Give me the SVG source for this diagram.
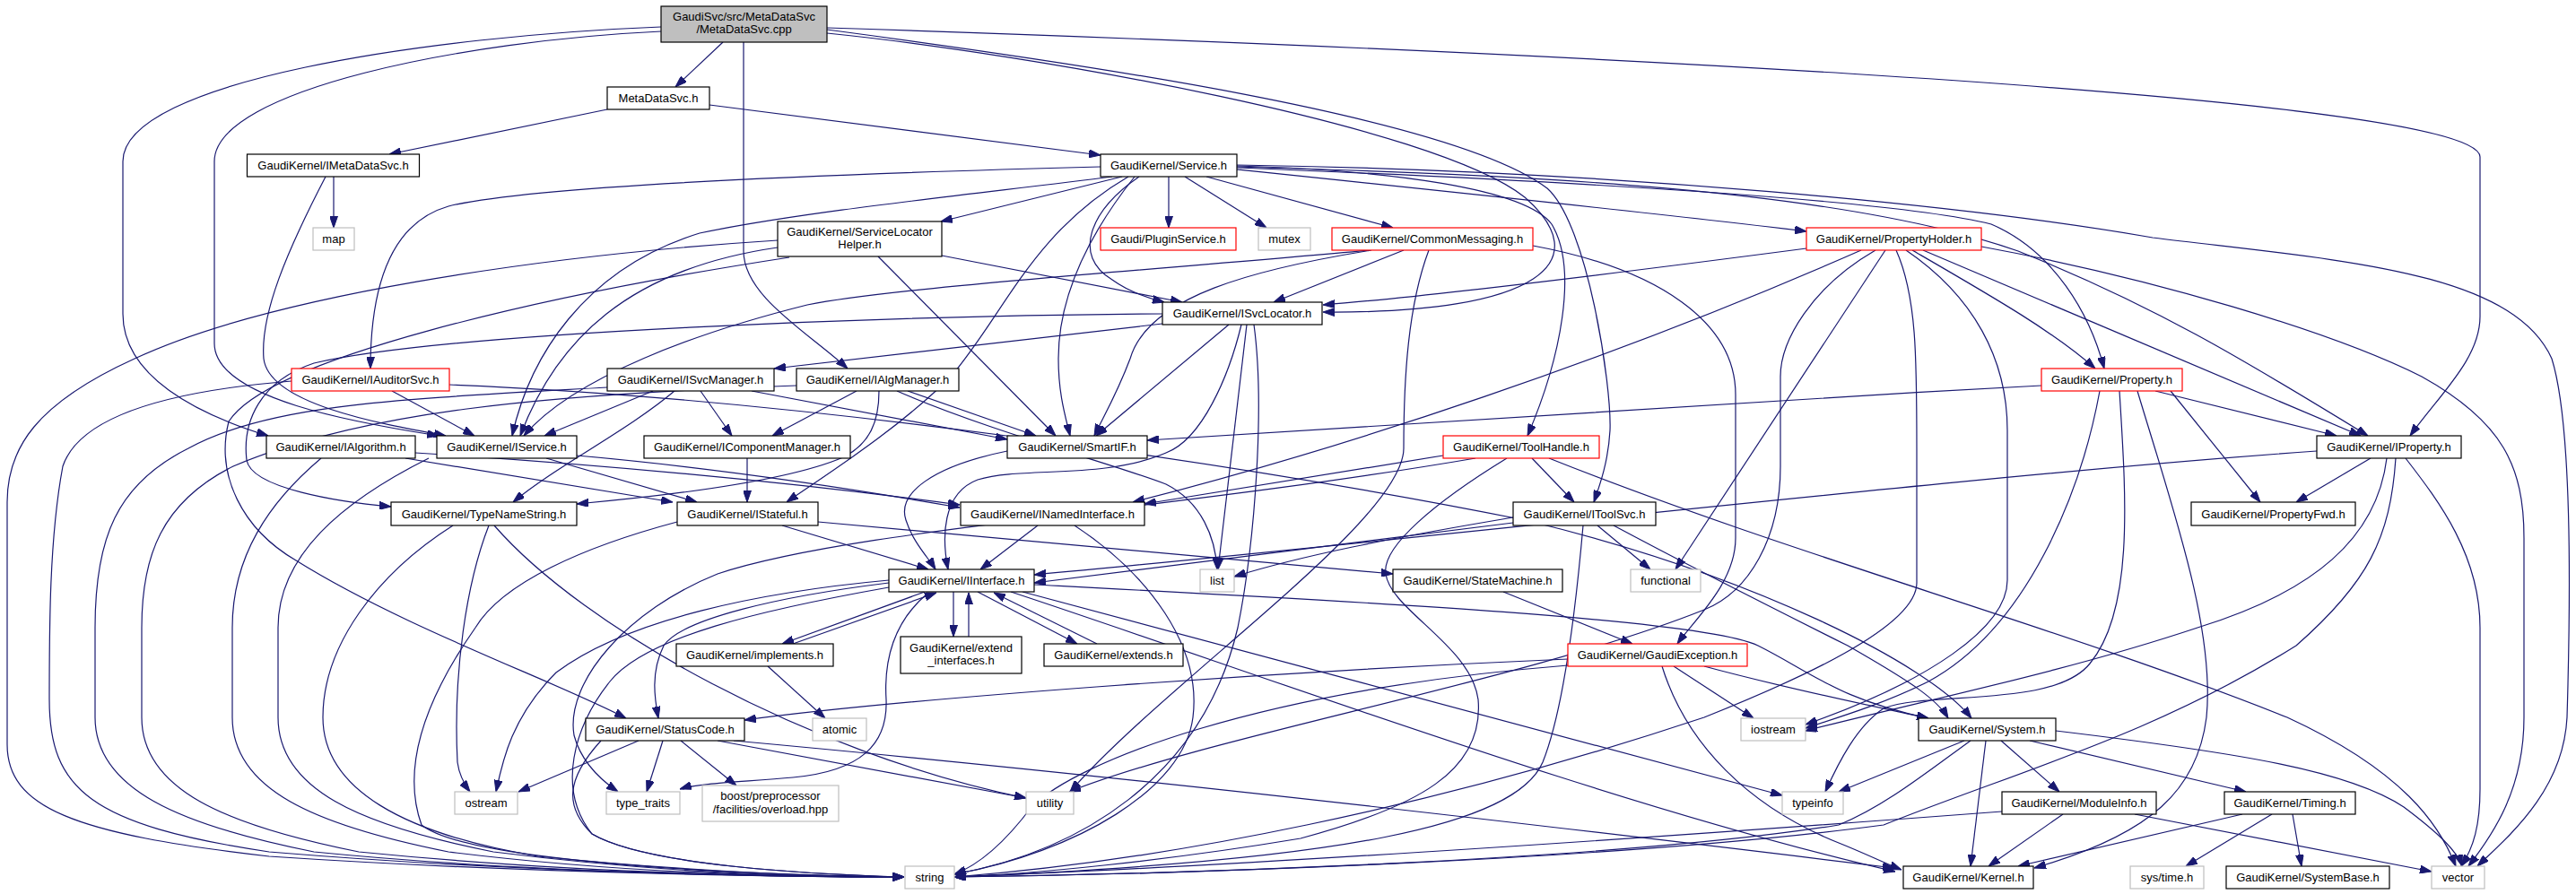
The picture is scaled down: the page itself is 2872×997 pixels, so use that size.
<svg xmlns="http://www.w3.org/2000/svg" width="2872" height="997" viewBox="0 0 2872 997">
<style>
.n rect{fill:#fff;stroke:#000;stroke-width:1.2}
.n.r rect{stroke:#ff0000}
.n.g rect{stroke:#bfbfbf}
.n.root rect{fill:#bfbfbf}
.n text{font-family:"Liberation Sans",Arial,sans-serif;font-size:13px;text-anchor:middle;fill:#000}
#edges path{fill:none;stroke:#191970;stroke-width:1.2;marker-end:url(#ah)}
</style>
<defs>
<marker id="ah" markerUnits="userSpaceOnUse" markerWidth="13" markerHeight="9" viewBox="0 0 13 9" refX="13" refY="4.5" orient="auto"><path d="M0,0 L13,4.5 L0,9 z" fill="#191970" stroke="#191970"/></marker>
</defs>
<rect width="2872" height="997" fill="#fff"/>
<g id="edges">
<path d="M806,47 L753,97"/>
<path d="M829,47 L829,280 C829,330 900,370 945,411"/>
<path d="M737,30 C480,40 137,90 137,180 L137,350 C137,420 220,462 299,486"/>
<path d="M737,35 C520,45 239,100 239,180 L239,383 C239,445 400,472 489,486"/>
<path d="M922,37 C1150,60 1600,140 1700,220 C1780,290 1720,350 1475,348"/>
<path d="M922,33 C1200,70 1620,130 1725,210 C1770,250 1797,430 1795,480 C1793,515 1784,540 1777,560"/>
<path d="M922,31 C1500,50 2765,100 2765,175 L2765,353 C2765,400 2720,440 2687,486"/>
<path d="M677,122 L434,172"/>
<path d="M791,117 L1227,173"/>
<path d="M372,197 L372,254"/>
<path d="M363,197 C320,280 290,350 294,400 C300,450 420,472 497,486"/>
<path d="M1251,197 L1049,247"/>
<path d="M1303,197 L1303,254"/>
<path d="M1321,197 L1412,254"/>
<path d="M1345,197 L1553,254"/>
<path d="M1379,189 C1600,212 1850,238 2014,258"/>
<path d="M1270,197 C1215,235 1195,285 1240,312 C1258,325 1278,332 1298,337"/>
<path d="M1227,186 C1000,192 600,205 500,230 C430,250 413,330 413,411"/>
<path d="M1240,197 C1100,215 900,235 780,260 C650,300 590,400 571,486"/>
<path d="M1265,197 C1215,260 1180,330 1180,400 C1180,440 1188,465 1193,486"/>
<path d="M1258,197 C1150,260 1120,350 1060,420 C1000,480 920,530 877,560"/>
<path d="M1379,185 C1550,190 1700,210 1730,250 C1760,300 1740,400 1703,486"/>
<path d="M1379,187 C1700,200 2100,220 2220,250 C2290,280 2330,350 2346,411"/>
<path d="M1379,186 C1700,195 2050,210 2250,280 C2400,340 2500,400 2640,486"/>
<path d="M1379,184 C1800,190 2200,230 2400,265 C2600,290 2800,300 2845,400 C2870,480 2865,700 2862,800 C2858,880 2800,930 2762,966"/>
<path d="M1050,285 L1318,337"/>
<path d="M979,286 L1177,486"/>
<path d="M867,276 C700,300 620,380 580,486"/>
<path d="M867,268 C600,285 300,330 150,400 C40,450 8,500 8,560 L8,830 C8,900 80,930 300,955 C600,975 900,978 1008,978"/>
<path d="M880,287 C600,330 300,400 255,470 C240,530 270,590 330,625 C450,700 620,760 698,801"/>
<path d="M1565,279 L1420,337"/>
<path d="M1529,279 C1400,300 1280,330 1260,400 C1245,440 1230,465 1220,486"/>
<path d="M1527,279 C1300,300 1000,320 900,340 C780,370 640,420 584,486"/>
<path d="M1709,274 C1850,300 1935,360 1935,440 L1935,600 C1935,650 1890,690 1870,718"/>
<path d="M1593,279 C1570,340 1565,420 1565,500 C1565,580 1300,760 1193,883"/>
<path d="M2014,277 C1800,305 1600,330 1475,340"/>
<path d="M2075,279 C1800,400 1500,500 1263,560"/>
<path d="M2091,279 C2020,320 1985,380 1985,420 L1985,520 C1985,600 1950,660 1900,680 C1700,760 1350,820 1192,883"/>
<path d="M2102,279 L1868,635"/>
<path d="M2114,279 C2137,330 2137,400 2137,500 L2137,650 C2137,700 2000,760 1900,800 C1600,900 1300,960 1064,978"/>
<path d="M2125,279 C2200,330 2238,400 2238,480 L2238,647 C2238,700 2150,760 2013,808"/>
<path d="M2144,279 L2632,486"/>
<path d="M2132,279 C2220,330 2290,370 2336,411"/>
<path d="M2209,275 C2400,310 2600,370 2700,420 C2790,470 2814,520 2814,600 L2814,800 C2814,880 2780,930 2752,966"/>
<path d="M1296,361 L863,411"/>
<path d="M1370,362 L1222,486"/>
<path d="M1384,362 C1370,420 1340,490 1300,505 C1230,535 1140,520 1090,535 C1050,550 1050,600 1057,635"/>
<path d="M1390,362 L1358,635"/>
<path d="M1398,362 C1410,450 1400,600 1380,700 C1340,870 1200,950 1064,975"/>
<path d="M1296,350 C1000,352 500,370 350,405 C290,425 270,470 275,513 C280,545 380,560 436,565"/>
<path d="M437,436 L529,486"/>
<path d="M325,425 C200,435 90,460 70,520 C55,600 55,700 55,780 C55,880 100,920 300,950 C600,975 900,978 1008,978"/>
<path d="M501,429 C900,445 1400,520 1700,580 C1950,640 2150,740 2198,801"/>
<path d="M728,436 L607,486"/>
<path d="M781,436 L816,486"/>
<path d="M838,436 L1123,490"/>
<path d="M752,436 C700,480 620,520 572,560"/>
<path d="M677,432 C450,445 300,450 210,500 C130,540 106,600 106,700 L106,800 C106,880 200,920 350,950 C600,975 900,978 1008,978"/>
<path d="M955,436 L861,486"/>
<path d="M1012,436 L1155,486"/>
<path d="M980,436 C980,470 970,495 940,510 C870,540 720,555 643,562"/>
<path d="M1000,436 C1100,480 1250,520 1300,540 C1340,560 1355,600 1357,635"/>
<path d="M888,430 C600,440 400,460 260,520 C180,560 158,620 158,700 L158,800 C158,880 250,920 400,950 C650,975 900,978 1008,978"/>
<path d="M2276,430 C1900,450 1500,475 1279,491"/>
<path d="M2403,436 L2605,486"/>
<path d="M2420,436 L2520,560"/>
<path d="M2341,436 C2320,550 2260,700 2150,760 C2100,785 2050,800 2013,812"/>
<path d="M2363,436 C2370,550 2380,680 2330,740 C2290,790 2150,770 2100,790 C2070,810 2050,850 2035,883"/>
<path d="M2383,436 C2420,560 2470,700 2460,800 C2450,880 2400,930 2268,968"/>
<path d="M452,511 L750,560"/>
<path d="M463,505 C700,520 900,540 1070,563"/>
<path d="M358,511 C300,560 259,620 259,700 L259,800 C259,880 350,920 500,950 C700,975 900,978 1008,978"/>
<path d="M609,511 L777,560"/>
<path d="M643,508 C800,522 950,545 1070,566"/>
<path d="M478,511 C380,560 310,620 310,700 L310,800 C310,880 400,920 550,950 C750,975 900,978 1008,978"/>
<path d="M833,511 L833,560"/>
<path d="M1123,503 C1040,520 1000,550 1010,580 C1018,605 1035,622 1043,635"/>
<path d="M1609,508 L1276,562"/>
<path d="M1708,511 L1755,560"/>
<path d="M1680,511 C1600,560 1540,610 1545,640 C1550,680 1640,720 1648,780 C1655,860 1580,900 1450,935 C1300,960 1150,975 1064,978"/>
<path d="M1727,511 C2000,620 2300,700 2550,800 C2680,860 2720,920 2738,966"/>
<path d="M1645,511 C1300,570 950,590 800,640 C700,680 630,760 640,820 C648,850 670,870 689,883"/>
<path d="M2643,511 L2560,560"/>
<path d="M2682,511 C2720,560 2765,620 2765,700 L2765,880 C2765,920 2758,945 2744,966"/>
<path d="M2583,503 C2200,530 1600,600 1153,641"/>
<path d="M2661,511 C2650,600 2580,660 2450,700 C2300,750 2150,780 2013,815"/>
<path d="M2671,511 C2665,600 2640,650 2560,720 C2400,820 2250,860 2100,920 C1800,960 1300,975 1064,978"/>
<path d="M545,586 C520,650 505,750 510,850 C512,865 518,875 524,883"/>
<path d="M551,586 C650,700 900,840 1144,890"/>
<path d="M505,586 C420,640 360,720 360,800 C360,880 450,930 600,955 C800,975 950,978 1008,978"/>
<path d="M872,586 L1035,635"/>
<path d="M755,582 C650,610 560,650 530,700 C460,800 452,870 470,920 C520,960 800,975 1008,978"/>
<path d="M912,582 L1553,640"/>
<path d="M1157,586 L1093,635"/>
<path d="M1198,586 C1280,640 1340,720 1330,800 C1320,880 1200,950 1064,975"/>
<path d="M1687,583 L1153,650"/>
<path d="M1687,577 C1550,600 1450,620 1376,643"/>
<path d="M1781,586 L1840,635"/>
<path d="M1799,586 C1900,640 2000,690 2060,720 C2130,760 2160,780 2172,801"/>
<path d="M1765,586 C1755,700 1740,800 1720,850 C1690,920 1500,960 1064,978"/>
<path d="M1031,660 L872,718"/>
<path d="M884,718 L1044,661"/>
<path d="M1063,660 L1063,710"/>
<path d="M1080,710 L1080,661"/>
<path d="M1090,660 L1201,718"/>
<path d="M1223,718 L1108,661"/>
<path d="M991,650 C870,665 760,690 740,720 C725,750 730,780 734,801"/>
<path d="M991,655 C850,680 720,710 680,760 C640,810 620,880 660,930 C720,965 900,975 1008,978"/>
<path d="M1035,661 C1000,690 985,730 988,780 C990,830 960,860 884,867 C830,872 780,873 758,880"/>
<path d="M991,647 C850,660 700,690 620,750 C570,800 560,850 553,883"/>
<path d="M1153,652 C1500,670 1900,690 1960,720 C2020,750 2050,780 2150,801"/>
<path d="M1127,660 C1400,750 1800,900 2113,972"/>
<path d="M1140,660 L1987,887"/>
<path d="M1676,660 L1820,718"/>
<path d="M856,743 L920,801"/>
<path d="M1866,743 L1955,801"/>
<path d="M1900,743 C2000,770 2100,790 2150,801"/>
<path d="M1853,743 C1880,830 1950,900 2050,940 C2080,952 2100,962 2120,970"/>
<path d="M1748,735 C1400,750 1000,780 830,803"/>
<path d="M1748,742 C1400,770 1200,850 1150,900 C1120,940 1090,965 1064,975"/>
<path d="M712,826 L578,883"/>
<path d="M739,826 L721,883"/>
<path d="M759,826 L821,876"/>
<path d="M800,826 L1144,890"/>
<path d="M818,826 C1300,870 1800,930 2112,968"/>
<path d="M670,826 C630,870 630,900 660,930 C720,965 900,975 1008,978"/>
<path d="M2190,826 L2050,883"/>
<path d="M2197,826 C2150,860 2100,900 2050,920 C1800,960 1300,975 1064,978"/>
<path d="M2214,826 L2197,966"/>
<path d="M2231,826 L2296,883"/>
<path d="M2263,826 L2504,883"/>
<path d="M2292,815 C2500,840 2620,860 2680,900 C2720,930 2740,950 2745,966"/>
<path d="M2300,908 L2217,966"/>
<path d="M2380,908 L2711,972"/>
<path d="M2232,905 C1900,930 1400,965 1064,978"/>
<path d="M2500,908 L2250,966"/>
<path d="M2533,908 L2437,966"/>
<path d="M2556,908 L2566,966"/>
</g>
<g id="n0" class="n root"><rect x="737" y="7" width="185" height="40"/><text x="829.5" y="23">GaudiSvc/src/MetaDataSvc</text><text x="829.5" y="37">/MetaDataSvc.cpp</text></g>
<g id="n1" class="n"><rect x="677" y="97" width="114" height="25"/><text x="734" y="114">MetaDataSvc.h</text></g>
<g id="n2" class="n"><rect x="275.5" y="172" width="192" height="25"/><text x="371.5" y="189">GaudiKernel/IMetaDataSvc.h</text></g>
<g id="n3" class="n"><rect x="1227" y="172" width="152" height="25"/><text x="1303" y="189">GaudiKernel/Service.h</text></g>
<g id="n4" class="n g"><rect x="349" y="254" width="46" height="25"/><text x="372" y="271">map</text></g>
<g id="n5" class="n"><rect x="867" y="247" width="183" height="39"/><text x="958.5" y="262.5">GaudiKernel/ServiceLocator</text><text x="958.5" y="277">Helper.h</text></g>
<g id="n6" class="n r"><rect x="1227" y="254" width="151" height="25"/><text x="1302.5" y="271">Gaudi/PluginService.h</text></g>
<g id="n7" class="n g"><rect x="1403" y="254" width="58" height="25"/><text x="1432" y="271">mutex</text></g>
<g id="n8" class="n r"><rect x="1485" y="254" width="224" height="25"/><text x="1597" y="271">GaudiKernel/CommonMessaging.h</text></g>
<g id="n9" class="n r"><rect x="2014" y="254" width="195" height="25"/><text x="2111.5" y="271">GaudiKernel/PropertyHolder.h</text></g>
<g id="n10" class="n"><rect x="1296" y="337" width="178" height="25"/><text x="1385" y="354">GaudiKernel/ISvcLocator.h</text></g>
<g id="n11" class="n r"><rect x="325" y="411" width="176" height="25"/><text x="413" y="428">GaudiKernel/IAuditorSvc.h</text></g>
<g id="n12" class="n"><rect x="677" y="411" width="186" height="25"/><text x="770" y="428">GaudiKernel/ISvcManager.h</text></g>
<g id="n13" class="n"><rect x="888" y="411" width="181" height="25"/><text x="978.5" y="428">GaudiKernel/IAlgManager.h</text></g>
<g id="n14" class="n r"><rect x="2276" y="411" width="157" height="25"/><text x="2354.5" y="428">GaudiKernel/Property.h</text></g>
<g id="n15" class="n"><rect x="297" y="486" width="166" height="25"/><text x="380" y="503">GaudiKernel/IAlgorithm.h</text></g>
<g id="n16" class="n"><rect x="487" y="486" width="156" height="25"/><text x="565" y="503">GaudiKernel/IService.h</text></g>
<g id="n17" class="n"><rect x="718" y="486" width="230" height="25"/><text x="833" y="503">GaudiKernel/IComponentManager.h</text></g>
<g id="n18" class="n"><rect x="1123" y="486" width="156" height="25"/><text x="1201" y="503">GaudiKernel/SmartIF.h</text></g>
<g id="n19" class="n r"><rect x="1609" y="486" width="174" height="25"/><text x="1696" y="503">GaudiKernel/ToolHandle.h</text></g>
<g id="n20" class="n"><rect x="2583" y="486" width="161" height="25"/><text x="2663.5" y="503">GaudiKernel/IProperty.h</text></g>
<g id="n21" class="n"><rect x="436" y="560" width="207" height="26"/><text x="539.5" y="577.5">GaudiKernel/TypeNameString.h</text></g>
<g id="n22" class="n"><rect x="755" y="560" width="157" height="26"/><text x="833.5" y="577.5">GaudiKernel/IStateful.h</text></g>
<g id="n23" class="n"><rect x="1071" y="560" width="205" height="26"/><text x="1173.5" y="577.5">GaudiKernel/INamedInterface.h</text></g>
<g id="n24" class="n"><rect x="1687" y="560" width="159" height="26"/><text x="1766.5" y="577.5">GaudiKernel/IToolSvc.h</text></g>
<g id="n25" class="n"><rect x="2443" y="560" width="183" height="26"/><text x="2534.5" y="577.5">GaudiKernel/PropertyFwd.h</text></g>
<g id="n26" class="n"><rect x="991" y="635" width="162" height="25"/><text x="1072" y="652">GaudiKernel/IInterface.h</text></g>
<g id="n27" class="n g"><rect x="1338" y="635" width="38" height="25"/><text x="1357" y="652">list</text></g>
<g id="n28" class="n"><rect x="1553" y="635" width="189" height="25"/><text x="1647.5" y="652">GaudiKernel/StateMachine.h</text></g>
<g id="n29" class="n g"><rect x="1818" y="635" width="78" height="25"/><text x="1857" y="652">functional</text></g>
<g id="n30" class="n"><rect x="754" y="718" width="175" height="25"/><text x="841.5" y="735">GaudiKernel/implements.h</text></g>
<g id="n31" class="n"><rect x="1004" y="710" width="135" height="41"/><text x="1071.5" y="727">GaudiKernel/extend</text><text x="1071.5" y="741">_interfaces.h</text></g>
<g id="n32" class="n"><rect x="1164" y="718" width="155" height="25"/><text x="1241.5" y="735">GaudiKernel/extends.h</text></g>
<g id="n33" class="n r"><rect x="1748" y="718" width="200" height="25"/><text x="1848" y="735">GaudiKernel/GaudiException.h</text></g>
<g id="n34" class="n"><rect x="653" y="801" width="177" height="25"/><text x="741.5" y="818">GaudiKernel/StatusCode.h</text></g>
<g id="n35" class="n g"><rect x="906" y="801" width="60" height="25"/><text x="936" y="818">atomic</text></g>
<g id="n36" class="n g"><rect x="1941" y="801" width="72" height="25"/><text x="1977" y="818">iostream</text></g>
<g id="n37" class="n"><rect x="2139" y="801" width="153" height="25"/><text x="2215.5" y="818">GaudiKernel/System.h</text></g>
<g id="n38" class="n g"><rect x="507" y="883" width="70" height="25"/><text x="542" y="900">ostream</text></g>
<g id="n39" class="n g"><rect x="676" y="883" width="82" height="25"/><text x="717" y="900">type_traits</text></g>
<g id="n40" class="n g"><rect x="783" y="876" width="152" height="40"/><text x="859" y="891.5">boost/preprocessor</text><text x="859" y="906.5">/facilities/overload.hpp</text></g>
<g id="n41" class="n g"><rect x="1144" y="883" width="53" height="25"/><text x="1170.5" y="900">utility</text></g>
<g id="n42" class="n g"><rect x="1987" y="883" width="68" height="25"/><text x="2021" y="900">typeinfo</text></g>
<g id="n43" class="n"><rect x="2232" y="883" width="172" height="25"/><text x="2318" y="900">GaudiKernel/ModuleInfo.h</text></g>
<g id="n44" class="n"><rect x="2480" y="883" width="146" height="25"/><text x="2553" y="900">GaudiKernel/Timing.h</text></g>
<g id="n45" class="n g"><rect x="1009" y="966" width="55" height="25"/><text x="1036.5" y="983">string</text></g>
<g id="n46" class="n"><rect x="2122" y="966" width="145" height="25"/><text x="2194.5" y="983">GaudiKernel/Kernel.h</text></g>
<g id="n47" class="n g"><rect x="2375" y="966" width="82" height="25"/><text x="2416" y="983">sys/time.h</text></g>
<g id="n48" class="n"><rect x="2482" y="966" width="182" height="25"/><text x="2573" y="983">GaudiKernel/SystemBase.h</text></g>
<g id="n49" class="n g"><rect x="2711" y="966" width="59" height="25"/><text x="2740.5" y="983">vector</text></g>
</svg>
